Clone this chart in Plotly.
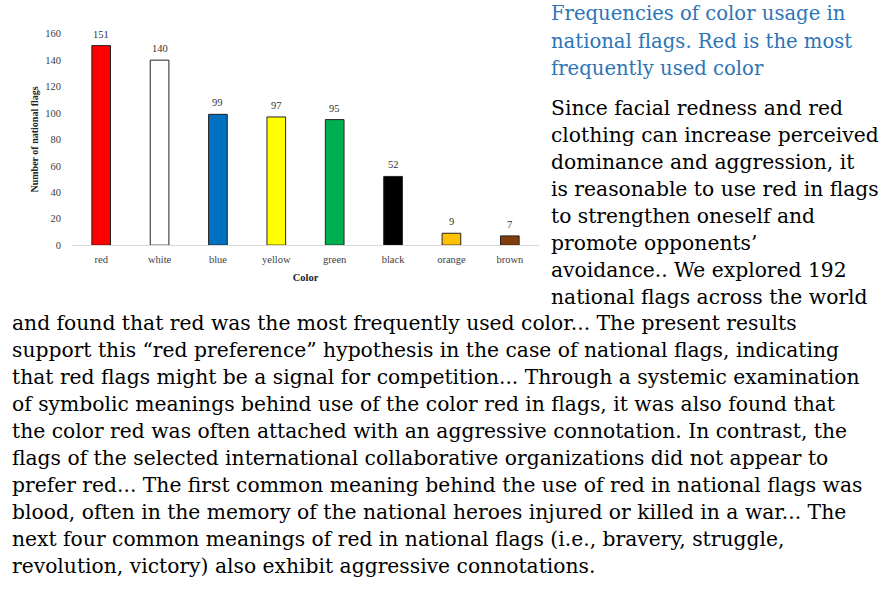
import plotly.graph_objects as go

W, H = 885, 589

categories = ["red", "white", "blue", "yellow", "green", "black", "orange", "brown"]
counts = [151, 140, 99, 97, 95, 52, 9, 7]
bar_colors = ["#ff0000", "#ffffff", "#0070c0", "#ffff00", "#00b050", "#000000", "#ffc000", "#843c0c"]
y_ticks = [0, 20, 40, 60, 80, 100, 120, 140, 160]

title_lines = [
    "Frequencies of color usage in",
    "national flags. Red is the most",
    "frequently used color",
]
side_lines = [
    "Since facial redness and red",
    "clothing can increase perceived",
    "dominance and aggression, it",
    "is reasonable to use red in flags",
    "to strengthen oneself and",
    "promote opponents\u2019",
    "avoidance.. We explored 192",
    "national flags across the world",
]
full_lines = [
    "and found that red was the most frequently used color... The present results",
    "support this \u201cred preference\u201d hypothesis in the case of national flags, indicating",
    "that red flags might be a signal for competition... Through a systemic examination",
    "of symbolic meanings behind use of the color red in flags, it was also found that",
    "the color red was often attached with an aggressive connotation. In contrast, the",
    "flags of the selected international collaborative organizations did not appear to",
    "prefer red... The first common meaning behind the use of red in national flags was",
    "blood, often in the memory of the national heroes injured or killed in a war... The",
    "next four common meanings of red in national flags (i.e., bravery, struggle,",
    "revolution, victory) also exhibit aggressive connotations.",
]

fig = go.Figure()
fig.add_trace(go.Bar(
    x=categories, y=counts,
    marker=dict(color=bar_colors, line=dict(color="#222222", width=1)),
    cliponaxis=False,
    width=0.32,
))


def py(px):
    # calibrated pixel-from-top -> paper coordinate
    return 1 - ((px - 3.2) / 0.984) / H


annotations = []
for c, v in zip(categories, counts):
    annotations.append(dict(
        text=str(v), x=c, y=v, xref="x", yref="y",
        xanchor="center", yanchor="bottom", yshift=4, showarrow=False,
        font=dict(family="Liberation Serif", size=10.5, color="#333333"),
    ))

title_font = dict(family="DejaVu Serif", size=19.6, color="#2e75b6")
for i, t in enumerate(title_lines):
    annotations.append(dict(
        text=t, x=549 / W, y=py(12 + 27.5 * i), xref="paper", yref="paper",
        xanchor="left", yanchor="middle", showarrow=False, font=title_font,
    ))
body_font = dict(family="DejaVu Serif", size=20.3, color="#000000")
for i, t in enumerate(side_lines):
    annotations.append(dict(
        text=t, x=549 / W, y=py(106 + 27.1 * i), xref="paper", yref="paper",
        xanchor="left", yanchor="middle", showarrow=False, font=body_font,
    ))
for i, t in enumerate(full_lines):
    annotations.append(dict(
        text=t, x=10 / W, y=py(322 + 27.1 * i), xref="paper", yref="paper",
        xanchor="left", yanchor="middle", showarrow=False, font=body_font,
    ))

fig.update_layout(
    width=W, height=H,
    margin=dict(l=0, r=0, t=0, b=0),
    paper_bgcolor="white", plot_bgcolor="white",
    showlegend=False,
    annotations=annotations,
    xaxis=dict(
        domain=[72 / W, 539 / W],
        showline=True, linecolor="#d9d9d9", linewidth=1,
        ticks="", showgrid=False, ticklabelstandoff=4,
        tickfont=dict(family="Liberation Serif", size=10.5, color="#404040"),
        title=dict(text="<b>Color</b>", font=dict(family="Liberation Serif", size=10.5, color="#222222"), standoff=9),
    ),
    yaxis=dict(
        domain=[py(244), py(32)],
        range=[0, 160], tickvals=y_ticks,
        showline=False, showgrid=False, zeroline=False,
        ticks="outside", ticklen=8, tickcolor="rgba(0,0,0,0)",
        tickfont=dict(family="Liberation Serif", size=10.5, color="#404040"),
        title=dict(text="<b>Number of national flags</b>", font=dict(family="Liberation Serif", size=10, color="#222222"), standoff=4),
    ),
)

fig.write_html("out.html", config={"displayModeBar": False},
               post_script="document.body.style.margin='0';")
